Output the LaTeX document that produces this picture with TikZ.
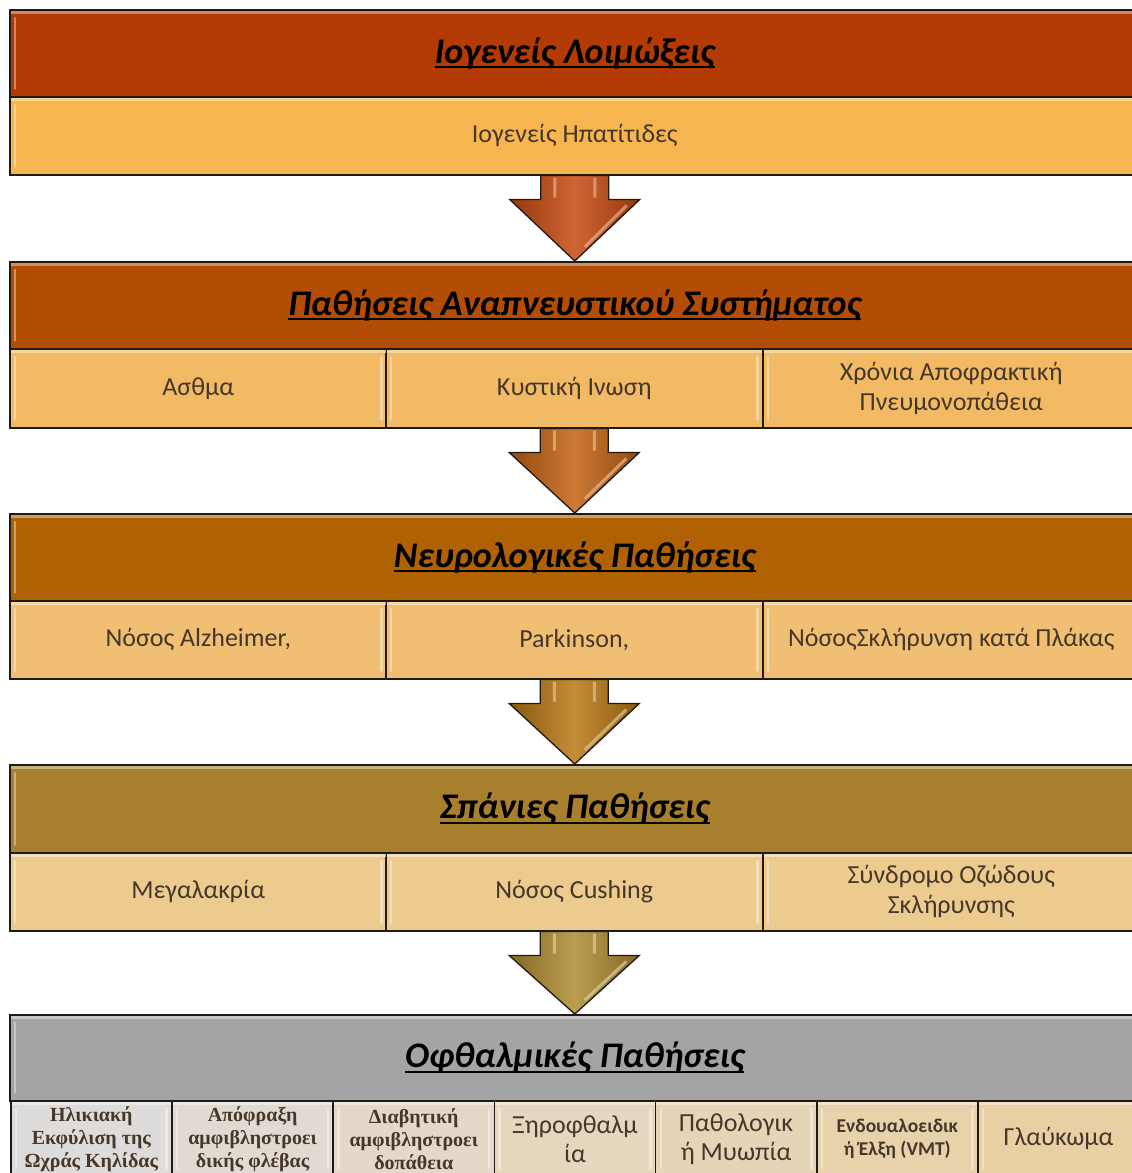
\documentclass[tikz,border=0pt]{standalone}
\usepackage{fontspec}
\setmainfont{Carlito}
\newfontfamily\smallserif{Liberation Serif}
\usetikzlibrary{calc}
\definecolor{hA}{HTML}{B33A03}
\definecolor{sA}{HTML}{F6B54F}
\definecolor{hB}{HTML}{B34D05}
\definecolor{sB}{HTML}{F2BA65}
\definecolor{hC}{HTML}{AF6104}
\definecolor{sC}{HTML}{F0BF74}
\definecolor{hD}{HTML}{A87F2C}
\definecolor{sD}{HTML}{EDCB8F}
\definecolor{hE}{HTML}{A4A4A4}
\definecolor{cA}{HTML}{DEDCDA}
\definecolor{cB}{HTML}{E1DAD2}
\definecolor{cC}{HTML}{E4D8C9}
\definecolor{cD}{HTML}{E6D6BE}
\definecolor{cE}{HTML}{E6D4B6}
\definecolor{cF}{HTML}{E7D2AC}
\definecolor{cG}{HTML}{E9D0A4}
\definecolor{aA}{HTML}{C84A10}
\definecolor{aB}{HTML}{C46212}
\definecolor{aC}{HTML}{B97814}
\definecolor{aD}{HTML}{B08C30}
\definecolor{txt}{HTML}{45372A}
\definecolor{edge}{HTML}{1E1A16}
\newcommand\hul[1]{\setbox0\hbox{#1}\rlap{\copy0}\rule[-5pt]{\wd0}{2.2pt}}
\newcommand\bevel[2]{%
  \fill[#2!45!white,opacity=.7] ([shift={(1.5,1.5)}]#1.north west) rectangle ([shift={(-1.5,5)}]#1.north east);
  \draw[#2!40!white,opacity=.65,line width=2.5pt,line cap=round] ([shift={(6,9)}]#1.north west) -- ([shift={(6,-9)}]#1.south west);
  \draw[#2!40!white,opacity=.65,line width=2.5pt,line cap=round] ([shift={(-6,9)}]#1.north east) -- ([shift={(-6,-9)}]#1.south east);
}
\newcommand\blockarrow[3]{%
  \path[draw=edge,line width=1.3pt,left color=#3!75!black,right color=#3!75!black,middle color=#3!85!white]
    let \p1=(#1.south), \p2=(#2.north) in
    (\x1-34pt,\y1) -- (\x1+34pt,\y1) -- (\x1+34pt,\y1-24pt) -- (\x1+65pt,\y1-24pt)
    -- (\x2,\y2) -- (\x1-65pt,\y1-24pt) -- (\x1-34pt,\y1-24pt) -- cycle;
  \path[draw=#3!45!white,line width=3pt,opacity=.7]
    let \p1=(#1.south), \p2=(#2.north) in
    (\x1-20pt,\y1-2pt) -- (\x1-20pt,\y1-22pt)
    (\x1+20pt,\y1-2pt) -- (\x1+20pt,\y1-22pt)
    (\x1+52pt,\y1-30pt) -- (\x2+10pt,\y2+14pt);
}
\tikzset{
  cell/.style={draw=edge,line width=1.5pt,inner sep=2pt,anchor=north west,align=center},
  hdr/.style={cell,minimum width=1130,minimum height=87,text=black,
    font=\fontsize{36}{40}\selectfont\bfseries\itshape},
  sub/.style={cell,minimum height=78,text=txt,font=\fontsize{26}{30}\selectfont},
  third/.style={sub,minimum width=377},
  eye/.style={cell,minimum width=161.2,minimum height=76,text=txt},
  eyebig/.style={eye,font=\fontsize{26}{29}\selectfont},
  eyeserif/.style={eye,font=\fontsize{20}{23}\smallserif\bfseries},
  eyebold/.style={eye,font=\fontsize{19.5}{23}\selectfont\bfseries}
}
\begin{document}
\begin{tikzpicture}[x=1pt,y=-1pt]
\useasboundingbox (0,0) rectangle (1132,1173);
\clip (0,0) rectangle (1132,1173);
\fill[white] (0,0) rectangle (1132,1173);

% Block 1
\node[hdr,fill=hA] (h1) at (9,9) {\hul{Ιογενείς Λοιμώξεις}};
\node[sub,fill=sA,minimum width=1130] (s1) at (9,96) {Ιογενείς Ηπατίτιδες};
\bevel{h1}{hA}\bevel{s1}{sA}

% Block 2
\node[hdr,fill=hB] (h2) at (9,261) {\hul{Παθήσεις Αναπνευστικού Συστήματος}};
\node[third,fill=sB,minimum height=79] (s2a) at (9,348) {Ασθμα};
\node[third,fill=sB,minimum height=79] (s2b) at (385,348) {Κυστική Ινωση};
\node[third,fill=sB,minimum height=79] (s2c) at (762,348) {Χρόνια Αποφρακτική\\Πνευμονοπάθεια};
\bevel{h2}{hB}\bevel{s2a}{sB}\bevel{s2b}{sB}\bevel{s2c}{sB}

% Block 3
\node[hdr,fill=hC] (h3) at (9,513) {\hul{Νευρολογικές Παθήσεις}};
\node[third,fill=sC] (s3a) at (9,600) {Νόσος Alzheimer,};
\node[third,fill=sC] (s3b) at (385,600) {Parkinson,};
\node[third,fill=sC] (s3c) at (762,600) {ΝόσοςΣκλήρυνση κατά Πλάκας};
\bevel{h3}{hC}\bevel{s3a}{sC}\bevel{s3b}{sC}\bevel{s3c}{sC}

% Block 4
\node[hdr,fill=hD,minimum height=88] (h4) at (9,764) {\hul{Σπάνιες Παθήσεις}};
\node[third,fill=sD] (s4a) at (9,852) {Μεγαλακρία};
\node[third,fill=sD] (s4b) at (385,852) {Νόσος Cushing};
\node[third,fill=sD] (s4c) at (762,852) {Σύνδρομο Οζώδους\\Σκλήρυνσης};
\bevel{h4}{hD}\bevel{s4a}{sD}\bevel{s4b}{sD}\bevel{s4c}{sD}

% Block 5
\node[hdr,fill=hE,minimum height=86] (h5) at (9,1014) {\hul{Οφθαλμικές Παθήσεις}};
\node[eyeserif,fill=cA] (e1) at (10,1100) {Ηλικιακή\\Εκφύλιση της\\Ωχράς Κηλίδας};
\node[eyeserif,fill=cB] (e2) at (171.2,1100) {Απόφραξη\\αμφιβληστροει\\δικής φλέβας};
\node[eyeserif,fill=cC] (e3) at (332.4,1100) {Διαβητική\\αμφιβληστροει\\δοπάθεια};
\node[eyebig,fill=cD] (e4) at (493.6,1100) {Ξηροφθαλμ\\ία};
\node[eyebig,fill=cE] (e5) at (654.8,1100) {Παθολογικ\\ή Μυωπία};
\node[eyebold,fill=cF] (e6) at (816,1100) {Ενδουαλοειδικ\\ή Έλξη (VMT)};
\node[eyebig,fill=cG] (e7) at (977.2,1100) {Γλαύκωμα};
\bevel{h5}{hE}
\foreach \c/\k in {e1/cA,e2/cB,e3/cC,e4/cD,e5/cE,e6/cF,e7/cG}{\bevel{\c}{\k}}

% Arrows
\blockarrow{s1}{h2}{aA}
\blockarrow{s2b}{h3}{aB}
\blockarrow{s3b}{h4}{aC}
\blockarrow{s4b}{h5}{aD}
\end{tikzpicture}
\end{document}
